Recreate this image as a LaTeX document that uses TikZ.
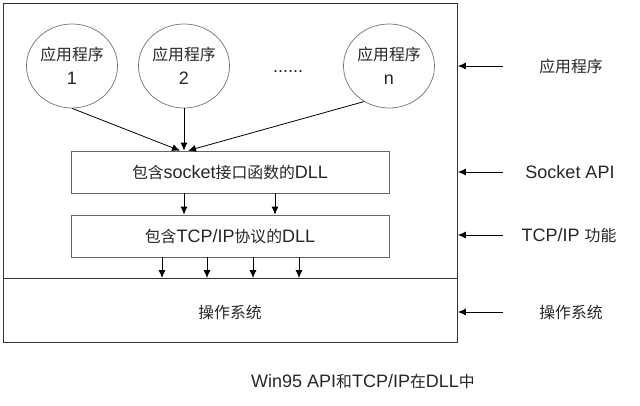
\documentclass[tikz,border=0pt]{standalone}
\usepackage{fontspec}
\setmainfont{Liberation Sans}
\newfontfamily\zhfont[Scale=0.88]{Noto Sans CJK SC}
\newcommand{\zh}[1]{{\zhfont #1}}
\usetikzlibrary{shapes.geometric,arrows.meta}

\begin{document}
\begin{tikzpicture}[x=1pt,y=-1pt,
        every node/.style={font=\fontsize{18}{24}\selectfont, text=black!85},
        app/.style={ellipse, draw=black!55, line width=0.7pt, minimum width=91pt, minimum height=84pt, inner sep=0pt, align=center},
        dll/.style={draw=black!60, line width=0.7pt, minimum width=318pt, minimum height=42pt, inner sep=0pt},
        arr/.style={-{Latex[length=8pt,width=7pt]}, line width=0.8pt}]
        \useasboundingbox (0,0) rectangle (640,406);
        % outer frame and the layer above the OS
        \node [draw=black!80, line width=0.9pt, minimum width=454pt, minimum height=339pt, anchor=north west, inner sep=0pt] (frame) at (3,3) {};
        \coordinate (split) at (3,278);
        \draw [black!80, line width=0.9pt] (split) -- (split -| frame.east);
        % applications
        \node [app] (app1) at (72,66) {\zh{应用程序}\\1};
        \node [app] (app2) at (184,66) {\zh{应用程序}\\2};
        \node [app] (appn) at (389,66) {\zh{应用程序}\\n};
        \node [anchor=base] (dots) at (288,73) {......};
        % the two DLLs and the OS
        \node [dll] (sock) at (230,172) {\zh{包含}socket\zh{接口函数的}DLL};
        \node [dll] (tcp) at (230,236) {\zh{包含}TCP/IP\zh{协议的}DLL};
        \node (os) at (230,312) {\zh{操作系统}};
        \draw [arr] (app1.south) -- ([xshift=-4pt]sock.north -| app2);
        \draw [arr] (app2.south) -- (sock.north -| app2);
        \draw [arr] (appn.235) -- ([xshift=4pt]sock.north -| app2);
        \foreach \d in {-46,45}
            \draw [arr] ([xshift=\d pt]sock.south) -- ([xshift=\d pt]tcp.north);
        \foreach \d in {-68,-23,23,69}
            \draw [arr] ([xshift=\d pt]tcp.south) -- ([xshift=\d pt]tcp.south |- split);
        % labels on the right
        \coordinate (rail) at (503,0);
        \node (lblapp) at (571,66) {\zh{应用程序}};
        \node (lblapi) at (570,172) {Socket API};
        \node (lbltcp) at (569,235) {TCP/IP \zh{功能}};
        \node (lblos) at (571,312) {\zh{操作系统}};
        \foreach \l in {lblapp,lblapi,lbltcp,lblos}
            \draw [arr] (\l -| rail) -- (\l -| frame.east);
        % caption
        \node (caption) at (363,381) {Win95 API\zh{和}TCP/IP\zh{在}DLL\zh{中}};
\end{tikzpicture}
\end{document}
